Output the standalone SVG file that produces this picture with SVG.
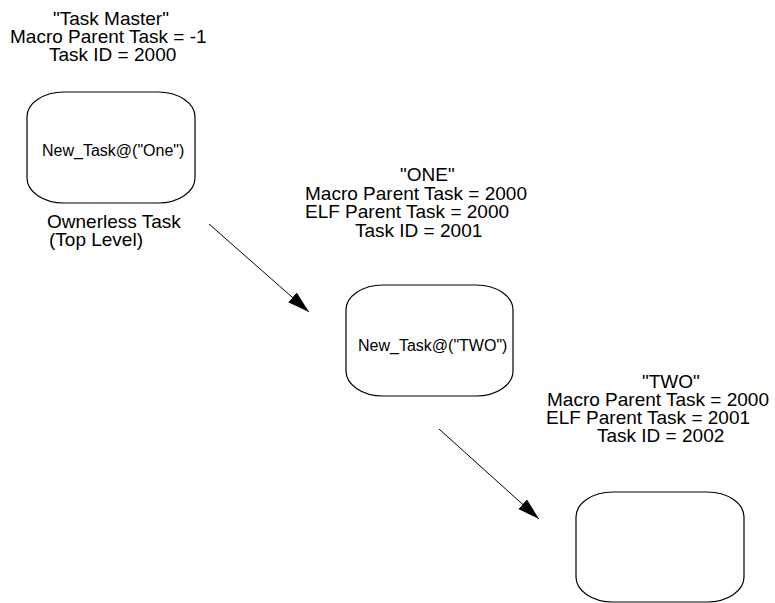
<svg xmlns="http://www.w3.org/2000/svg" width="775" height="603" viewBox="0 0 775 603">
  <style>
    .box { fill: #ffffff; stroke: #000000; stroke-width: 1.2; }
    .lbl { font-family: "Liberation Sans", Arial, sans-serif; font-size: 19px; fill: #000000; }
    .call { font-family: "Liberation Sans", Arial, sans-serif; font-size: 16px; fill: #000000; }
    .link { stroke: #000000; stroke-width: 1; fill: none; }
  </style>
  <defs>
    <marker id="head" markerUnits="userSpaceOnUse" markerWidth="24" markerHeight="14" refX="22" refY="6.5" orient="auto">
      <polygon points="0,0 22,6.5 0,13" fill="#000000"/>
    </marker>
  </defs>
  <rect width="775" height="603" fill="#ffffff"/>

  <!-- top-level task -->
  <g id="task-master">
    <text class="lbl" x="53" y="25">"Task Master"</text>
    <text class="lbl" x="10" y="43">Macro Parent Task = -1</text>
    <text class="lbl" x="49" y="61">Task ID = 2000</text>
    <rect class="box" x="27" y="92" width="168" height="111" rx="37" ry="25"/>
    <text class="call" x="42" y="156">New_Task@("One")</text>
    <text class="lbl" x="47" y="228">Ownerless Task</text>
    <text class="lbl" x="49" y="246">(Top Level)</text>
  </g>

  <!-- child task ONE -->
  <g id="task-one">
    <text class="lbl" x="400" y="181">"ONE"</text>
    <text class="lbl" x="305" y="199.5">Macro Parent Task = 2000</text>
    <text class="lbl" x="305" y="218">ELF Parent Task = 2000</text>
    <text class="lbl" x="355" y="236.5">Task ID = 2001</text>
    <rect class="box" x="346" y="285" width="167" height="111" rx="37" ry="25"/>
    <text class="call" x="358" y="351">New_Task@("TWO")</text>
  </g>

  <!-- child task TWO -->
  <g id="task-two">
    <text class="lbl" x="642" y="388">"TWO"</text>
    <text class="lbl" x="547" y="406">Macro Parent Task = 2000</text>
    <text class="lbl" x="546" y="424">ELF Parent Task = 2001</text>
    <text class="lbl" x="597" y="442">Task ID = 2002</text>
    <rect class="box" x="576" y="492" width="168" height="110" rx="37" ry="25"/>
  </g>

  <!-- spawn links -->
  <g id="connectors">
    <line class="link" x1="209" y1="224" x2="309" y2="312" marker-end="url(#head)"/>
    <line class="link" x1="439" y1="429" x2="539" y2="519" marker-end="url(#head)"/>
  </g>
</svg>
